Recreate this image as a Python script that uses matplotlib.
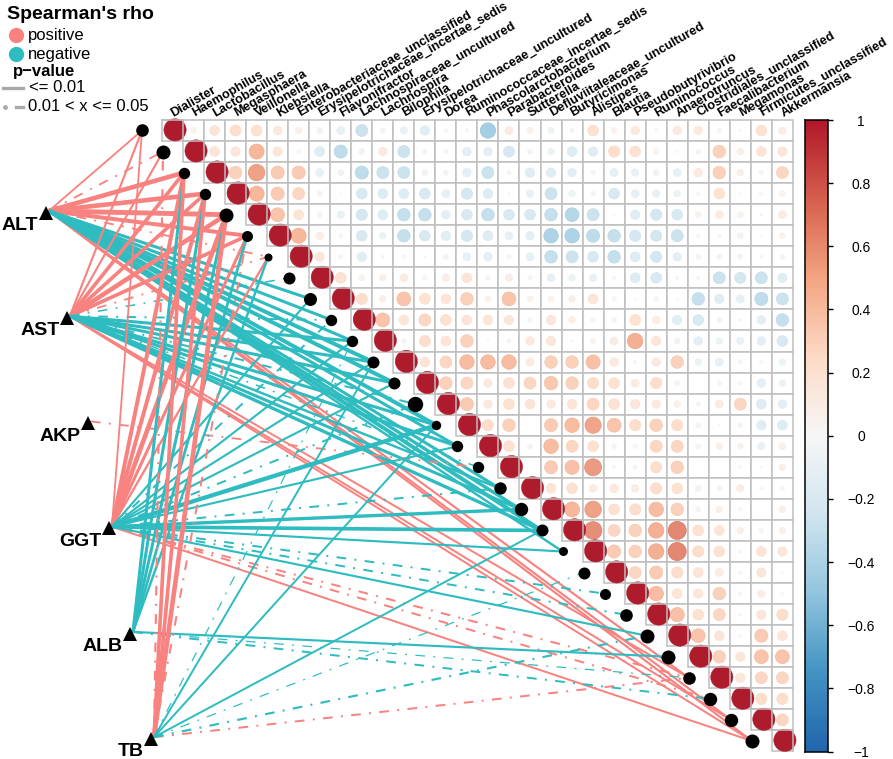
import matplotlib
matplotlib.use("Agg")
import matplotlib.pyplot as plt
import numpy as np
from matplotlib.colors import LinearSegmentedColormap
from matplotlib.patches import Circle, Rectangle

plt.rcParams["font.family"] = ["Liberation Sans", "DejaVu Sans"]
plt.rcParams["lines.scale_dashes"] = False

W, H = 893, 759
CELL_X, CELL_Y = 21.03, 21.05
X0, Y0 = 172.5, 130.5

taxa = [
    "Dialister", "Haemophilus", "Lactobacillus", "Megasphaera", "Veillonella",
    "Klebsiella", "Enterobacteriaceae_unclassified",
    "Erysipelotrichaceae_incertae_sedis", "Flavonifractor",
    "Lachnospiraceae_uncultured", "Lachnospira", "Bilophila",
    "Erysipelotrichaceae_uncultured", "Dorea", "Ruminococcaceae_incertae_sedis",
    "Phascolarctobacterium", "Parabacteroides", "Sutterella",
    "Defluviitaleaceae_uncultured", "Butyricimonas", "Alistipes", "Blautia",
    "Pseudobutyrivibrio", "Ruminococcus", "Anaerotruncus",
    "Clostridiales_unclassified", "Faecalibacterium", "Megamonas",
    "Firmicutes_unclassified", "Akkermansia",
]

# upper triangle, one list per row, starting right of the diagonal
rho_rows = [
    [.07, .2, .25, .24, .16, .09, -.07, -.13, -.3, -.05, -.11, -.18, -.03, .02, -.49,
     .13, .08, -.08, .04, .24, .06, .15, .02, .15, .15, .04, .01, .24, .11],
    [.2, .18, .47, .18, .03, -.2, -.36, -.07, .15, -.3, -.04, .04, -.15, -.15,
     -.25, .05, -.09, -.2, -.18, .26, .24, .07, .01, .05, .33, .09, .2, .18],
    [.33, .57, .36, .36, -.13, -.07, -.36, -.3, -.3, -.07, -.05, -.15, -.3,
     .04, -.18, -.18, -.15, -.04, -.13, -.11, -.07, -.13, .15, .33, .09, .04, .3],
    [.47, .36, .3, -.05, -.01, -.24, -.2, -.2, -.24, -.13, -.26, -.2,
     -.01, -.11, -.3, -.09, -.04, -.24, -.13, -.11, -.09, -.03, .24, .01, .03, .07],
    [.4, .2, .05, -.11, -.26, -.2, -.33, -.33, -.15, -.24, -.33,
     -.24, -.24, -.33, -.4, -.3, -.01, -.18, -.26, -.24, .07, .13, .07, .02, .13],
    [.47, .11, .04, -.24, -.09, -.33, -.24, -.18, -.26, -.2,
     -.13, -.15, -.44, -.44, -.36, -.33, -.26, -.26, -.3, .03, -.03, -.07, .01, .07],
    [.18, -.04, -.18, -.02, -.03, -.01, -.05, -.13, -.15, -.04,
     -.13, -.33, -.3, -.24, -.33, -.2, -.26, -.15, .05, -.05, -.05, -.02, .05],
    [.24, .07, .09, .13, .04, .11, .2, .04, .11,
     -.04, -.13, -.09, -.11, -.02, -.2, -.24, -.02, .02, -.3, -.26, -.3, -.18],
    [.26, .09, .4, .24, .2, .33, .07, .4,
     .07, .07, .09, .2, .04, .01, .04, .01, -.33, -.18, -.13, -.36, -.3],
    [.4, .2, .3, .24, .2, .2, .18,
     .04, .18, .09, .04, .05, .24, .11, -.18, -.24, -.05, -.02, -.15, -.33],
    [-.04, .26, .2, .33, .01, .04,
     .15, .18, .01, .05, .13, .5, .18, -.07, -.15, -.09, -.11, -.15, -.24],
    [.2, .3, .44, .44, .44,
     .13, .33, .33, .42, .15, .02, .15, .33, -.09, -.13, .04, -.03, -.09],
    [.33, .3, .15, .24,
     .3, .38, .33, .26, .24, .13, .26, .05, 0, .04, .03, -.15, -.09],
    [.36, .15, .24,
     .2, .15, .2, .3, .24, .18, .15, .09, -.04, .13, .3, -.2, -.15],
    [.26, .33,
     0, .36, .44, .55, .4, .26, .33, .26, .05, -.01, -.05, -.18, -.2],
    [.24,
     -.05, .44, .3, .24, .04, .04, .3, .3, .05, .09, .07, -.11, .09],
    [0, .36, .42, .6, .02, .04, .26, .33, 0, 0, .02, .01, .09],
    [.2, .24, .13, .15, .11, .26, .24, -.07, -.05, .11, .03, .04],
    [.47, .57, .24, .26, .44, .33, .05, .09, .03, 0, .09],
    [.65, .3, .33, .5, .68, .24, .2, .09, .04, .09],
    [.36, .33, .5, .68, .26, .24, .02, .2, .18],
    [.3, .36, .26, .2, .13, -.03, .18, .01],
    [.44, .2, .18, .33, .03, .11, .02],
    [.42, .24, .3, -.02, .18, .26],
    [.4, .2, -.02, .36, .2],
    [.33, .18, .4, .4],
    [.18, .3, .3],
    [.26, .26],
    [.3],
]

node_size = [6.3, 7, 5.7, 5.7, 7, 5.5, 4, 6, 6.5, 5.7, 5.7, 6, 6, 7.7, 4.7,
             5.7, 5.7, 6.2, 6.7, 6, 4.5, 6, 5.5, 6.3, 7, 7, 6.3, 6.7, 6.7, 7]

env_names = ["ALT", "AST", "AKP", "GGT", "ALB", "TB"]
env_x = [-6, -5, -4, -3, -2, -1]
env_y = [3.9, 8.9, 13.9, 18.9, 23.9, 28.9]

# (taxon, link strength, significant at 0.01?)  sign gives the colour
alt_links = [
    (0, .12, True), (1, .12, False), (2, .3, True), (3, .3, True), (4, .32, True),
    (5, .26, True), (6, .12, False),
    (28, .14, True), (29, .14, True), (26, .14, True),
    (8, -.2, True), (9, -.2, True), (10, -.2, True), (11, -.26, True), (12, -.26, True),
    (14, -.26, True), (15, -.2, True), (17, -.2, True), (18, -.22, True),
    (19, -.26, True), (20, -.16, True),
]
ast_links = [
    (0, .14, True), (1, .14, True), (2, .24, True), (3, .24, True), (4, .3, True),
    (5, .24, True), (6, .12, False),
    (26, .13, True), (28, .13, True), (29, .13, True),
    (7, -.1, False), (9, -.13, False), (10, -.2, True), (11, -.2, True), (12, -.2, True),
    (13, -.13, False), (14, -.2, True), (15, -.2, True), (16, -.1, False),
    (17, -.16, True), (18, -.2, True), (19, -.22, True),
]
akp_links = [(16, .12, False)]
ggt_links = [
    (0, .12, True), (2, .26, True), (3, .26, True), (4, .3, True), (5, .2, True),
    (6, .15, True), (26, .13, False), (27, .13, False), (29, .13, True),
    (8, -.14, True), (9, -.13, False), (10, -.14, True), (11, -.14, True),
    (12, -.14, True), (13, -.13, False), (14, -.28, True), (15, -.14, True),
    (17, -.13, False), (18, -.22, True), (19, -.24, True), (20, -.14, True),
    (22, -.13, False), (23, -.13, False), (24, -.14, True),
]
alb_links = [
    (2, -.2, True), (3, -.2, True), (4, -.2, True), (5, -.18, True), (6, -.16, True),
    (25, -.14, True), (26, -.08, False), (27, -.13, False),
]
tb_links = [
    (1, .14, False), (2, .24, True), (3, .24, True), (4, .3, True), (5, .13, False),
    (26, .13, False),
    (10, -.08, False), (11, -.13, True), (14, -.13, True), (19, -.13, True),
    (21, -.08, False), (24, -.14, False),
]
all_links = [alt_links, ast_links, akp_links, ggt_links, alb_links, tb_links]

cbar_ticks = [1, .8, .6, .4, .2, 0, -.2, -.4, -.6, -.8, -1]

POS = "#F8827F"
NEG = "#2FBCC0"
DASHDOT = (0, (7, 6, 1.4, 6))
cmap = LinearSegmentedColormap.from_list(
    "rdbu9", ["#2166AC", "#4393C3", "#92C5DE", "#D1E5F0", "#F7F7F7",
              "#FDDBC7", "#F4A582", "#D6604D", "#B2182B"])


def corr_color(v):
    return cmap((v + 1) / 2)


def to_cells(x, y):
    return (x - X0) / CELL_X, (y - Y0) / CELL_Y


fig = plt.figure(figsize=(W / 100, H / 100), dpi=100)
ax = fig.add_axes([0, 0, 1, 1])
ax.set_xlim((0 - X0) / CELL_X, (W - X0) / CELL_X)
ax.set_ylim((H - Y0) / CELL_Y, (0 - Y0) / CELL_Y)
ax.axis("off")

n = len(taxa)
GRID = "#BEBEBE"

# links first, they sit under the nodes
for ex, ey, links in zip(env_x, env_y, all_links):
    for taxon, r, strong in links:
        ax.plot([ex + .12, taxon - 1.45], [ey - .08, taxon], color=POS if r > 0 else NEG,
                lw=abs(r) * 11, ls="-" if strong else DASHDOT, zorder=1, solid_capstyle="butt")

for i in range(n):
    ax.plot(i - 1.45, i, "o", color="black", ms=node_size[i] * 2 * .72, mew=0, zorder=2)

for ex, ey, name in zip(env_x, env_y, env_names):
    ax.plot(ex, ey, "^", color="black", ms=10.5, mew=0, zorder=3)
    ax.text(ex - .38, ey + .62, name, ha="right", va="center",
            fontsize=14, fontweight="bold", zorder=3)

# correlation cells
for i in range(n):
    for j in range(i, n):
        ax.add_patch(Rectangle((j - .5, i - .5), 1, 1, fc="white", ec=GRID, lw=1.1, zorder=2))

for i, row in enumerate(rho_rows):
    for k, v in enumerate(row):
        j = i + 1 + k
        c = corr_color(v)
        ax.add_patch(Circle((j, i), .52 * np.sqrt(abs(v)), fc=(*c[:3], .85), ec=c, lw=.5, zorder=3))

for i in range(n):
    ax.add_patch(Circle((i + .12, i - .03), .53, fc="#AE1B2C", ec="#AE1B2C", lw=.3, zorder=3))
    ax.plot([i - .5, i + .5, i + .5], [i - .5, i - .5, i + .5], color=GRID, lw=1.1, zorder=4)

for j, name in enumerate(taxa):
    ax.text(j + .12, -.54, name, rotation=30, rotation_mode="anchor", ha="left", va="bottom",
            fontsize=9.2, fontweight="bold")

# legend
ax.text(*to_cells(7, 15), "Spearman's rho", fontsize=14, fontweight="bold", va="center")
for y, color, label in [(35, POS, "positive"), (54, NEG, "negative")]:
    ax.plot(*to_cells(16, y), "o", color=color, ms=11, mew=0)
    ax.text(*to_cells(28, y + 1), label, fontsize=12, va="center")
ax.text(*to_cells(13, 72), "p\u2212value", fontsize=12, fontweight="bold", va="center")
ax.plot(*zip(to_cells(3, 88), to_cells(23, 88)), color="#A9A9A9", lw=2.4)
ax.text(*to_cells(29, 88), "<= 0.01", fontsize=12, va="center")
ax.plot(*to_cells(5, 107), "o", color="#A9A9A9", ms=3.5, mew=0)
ax.plot(*zip(to_cells(16, 107), to_cells(23, 107)), color="#A9A9A9", lw=2.4)
ax.text(*to_cells(28, 107), "0.01 < x <= 0.05", fontsize=12, va="center")

# colour bar
cax = fig.add_axes([805 / W, 1 - 751.6 / H, 23 / W, 631.6 / H])
gradient = np.linspace(1, -1, 256).reshape(-1, 1)
cax.imshow(gradient, cmap=cmap, vmin=-1, vmax=1, aspect="auto", extent=(0, 1, -1, 1))
cax.set_xticks([])
cax.yaxis.tick_right()
cax.set_yticks(cbar_ticks)
cax.set_yticklabels([f"{t:g}".replace("-", "\u2212") for t in cbar_ticks], ha="center", fontsize=10)
cax.tick_params(axis="y", length=3.8, width=1, pad=20)
for spine in cax.spines.values():
    spine.set_linewidth(1.1)

fig.savefig("out.png", dpi=100)
